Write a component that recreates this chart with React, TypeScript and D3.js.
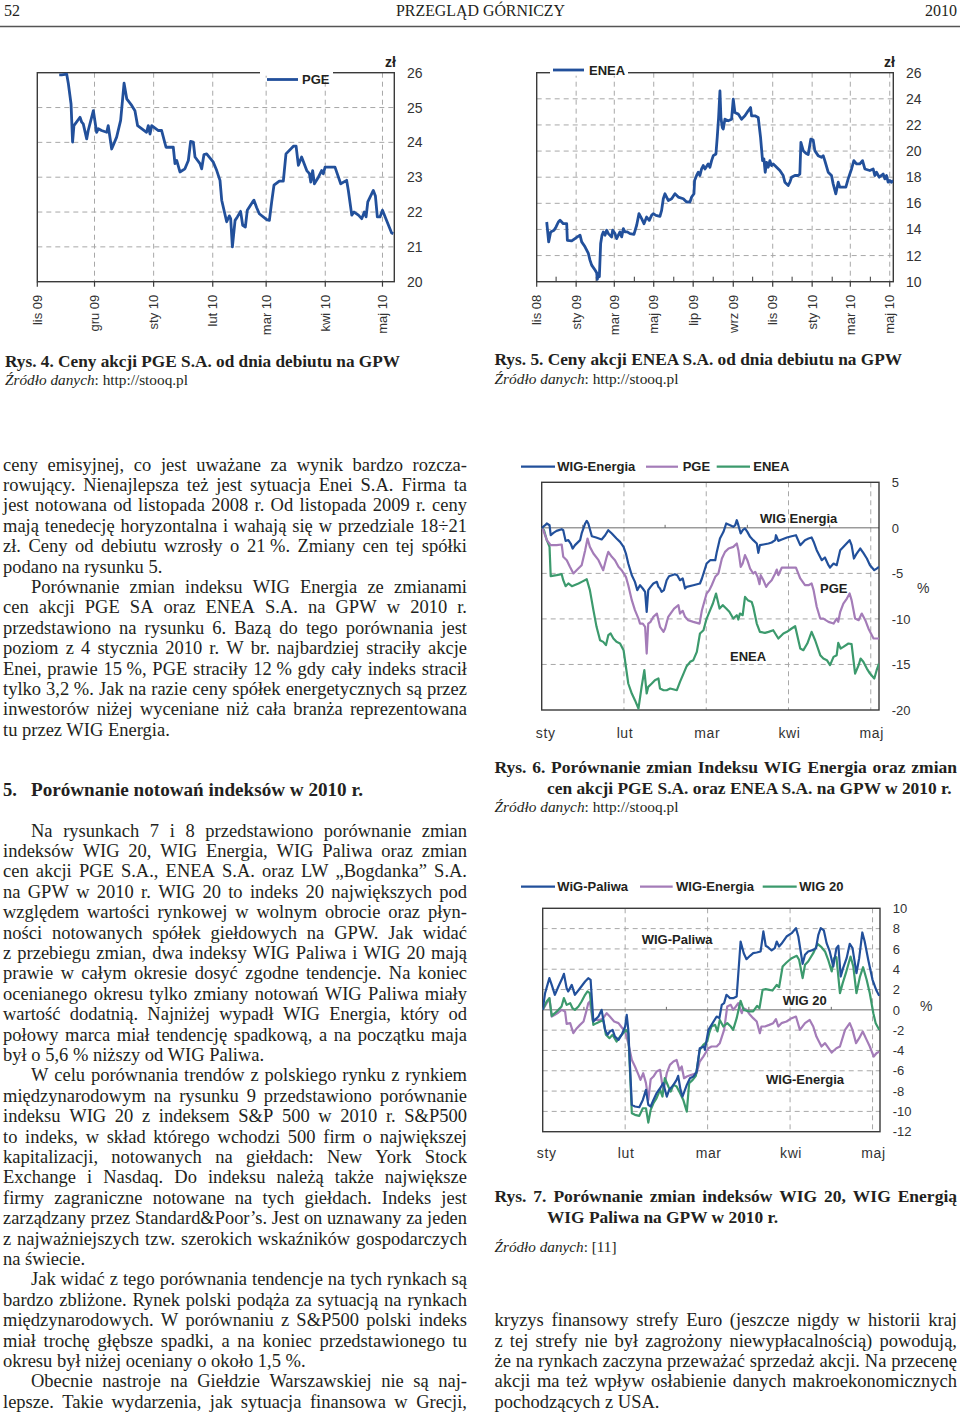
import React from "react";
import * as d3 from "d3";

const SERIF = "'Liberation Serif', 'Times New Roman', serif";
const SANS = "'Liberation Sans', Arial, sans-serif";
const INK = "#231f20";
const AX = "#3a3a3a";
const GRID = "#a8a8a8";
const BLUE = "#22509b";
const PURPLE = "#a47cb8";
const GREEN = "#3c9a6d";
const DAY = 86400000;

const MONTHS_PL = ["sty", "lut", "mar", "kwi", "maj", "cze", "lip", "sie", "wrz", "paź", "lis", "gru"];

// ---------- Rys. 4 : PGE price (days since 2009-11-01, zł) ----------
const pgeStart = Date.UTC(2009, 10, 1);
const pgeSpanDays = 187.2;
const pgeYTicks = [20, 21, 22, 23, 24, 25, 26];
const pgeSeries: [number, number][] = [
  [11.5, 25.94], [12.8, 25.94], [15.4, 25.96], [16.3, 25.68], [17.7, 25.1], [18.5, 24.01], [19.2, 24.48], [22.4, 24.72],
  [23.3, 24.58], [24.1, 24.53], [25.9, 24.1], [26.7, 24.34], [29.4, 24.91], [31.1, 24.29], [32.0, 24.39], [33.7, 24.34],
  [36.4, 24.29], [37.2, 24.48], [39.0, 23.81], [41.6, 24.15], [43.7, 24.63], [45.5, 25.7], [46.9, 25.25], [49.5, 25.06],
  [51.2, 24.91], [52.6, 24.48], [57.3, 24.29], [58.2, 24.48], [59.1, 24.24], [60.0, 24.48], [63.5, 24.34], [65.2, 24.34],
  [67.5, 23.86], [71.3, 23.86], [72.2, 23.39], [73.1, 23.48], [74.8, 23.15], [77.4, 23.24], [79.2, 23.48], [80.4, 24.03],
  [81.8, 24.01], [82.7, 23.58], [85.3, 23.39], [86.2, 23.24], [87.4, 23.65], [88.8, 23.67], [92.3, 23.43], [94.1, 23.19],
  [95.8, 22.91], [96.7, 22.34], [99.3, 21.72], [100.7, 21.89], [101.4, 21.81], [102.3, 21.0], [103.7, 21.76], [104.9, 21.86],
  [106.6, 22.02], [107.7, 21.62], [109.1, 21.57], [110.1, 22.05], [112.9, 22.29], [113.6, 22.34], [115.0, 22.13], [116.4, 21.95],
  [120.3, 21.78], [121.7, 21.76], [122.9, 22.29], [124.1, 22.77], [126.9, 22.89], [129.0, 22.89], [130.4, 23.67], [134.3, 23.89],
  [135.7, 23.89], [136.9, 23.34], [138.6, 23.58], [141.3, 23.19], [142.7, 23.1], [143.4, 22.86], [144.4, 23.19], [145.3, 22.81],
  [147.4, 23.0], [149.1, 23.19], [150.0, 23.1], [150.9, 23.29], [156.1, 23.29], [159.1, 22.81], [162.2, 22.91], [163.1, 22.62],
  [164.9, 21.91], [166.1, 22.0], [168.4, 21.91], [170.1, 21.81], [171.5, 22.0], [172.4, 21.86], [173.3, 22.29], [176.2, 22.62],
  [177.3, 22.46], [178.3, 21.86], [179.7, 21.86], [181.0, 22.05], [185.8, 21.4], [186.7, 21.38],
];

// ---------- Rys. 5 : ENEA price (days since 2008-11-01, zł) ----------
const eneaStart = Date.UTC(2008, 10, 1);
const eneaSpanDays = 551.5;
const eneaYTicks = [10, 12, 14, 16, 18, 20, 22, 24, 26];
const eneaSeries: [number, number][] = [
  [15.5, 14.57], [18.5, 13.05], [21.6, 13.81], [26.8, 13.94], [29.9, 14.19], [33.5, 14.57], [36.1, 14.7], [41.2, 14.44],
  [46.4, 14.44], [47.4, 13.17], [54.1, 13.12], [59.2, 13.3], [62.9, 13.43], [67.0, 13.56], [69.6, 13.05], [74.7, 12.67],
  [79.9, 12.16], [82.4, 11.65], [85.0, 11.27], [90.2, 10.89], [92.7, 10.69], [93.8, 10.18], [95.3, 10.63], [96.9, 10.38],
  [98.9, 12.92], [101.0, 13.56], [103.0, 13.81], [105.6, 13.56], [108.2, 13.94], [110.8, 13.68], [115.9, 13.43], [117.5, 13.94],
  [121.1, 13.68], [123.6, 13.3], [128.8, 13.81], [131.4, 13.43], [134.0, 14.06], [136.5, 13.81], [140.1, 13.81], [144.3, 13.68],
  [150.4, 13.63], [154.6, 14.32], [158.2, 15.21], [162.3, 14.83], [165.9, 14.44], [170.0, 14.95], [174.1, 14.7], [177.7, 15.08],
  [180.3, 15.21], [184.4, 15.08], [190.6, 15.0], [193.2, 15.46], [195.8, 16.35], [198.4, 16.73], [200.9, 16.48], [203.5, 16.22],
  [208.7, 16.35], [213.8, 16.73], [219.0, 16.48], [226.7, 16.35], [231.8, 16.1], [237.0, 16.1], [239.6, 16.48], [243.2, 16.73],
  [244.2, 17.75], [247.3, 18.13], [249.9, 18.38], [252.4, 18.13], [255.0, 18.63], [257.6, 18.89], [260.2, 18.63], [265.3, 19.02],
  [267.9, 18.76], [270.5, 19.27], [273.1, 19.65], [277.2, 19.78], [279.2, 21.05], [281.3, 22.57], [283.4, 24.6], [284.9, 22.57],
  [287.0, 21.81], [288.5, 21.68], [291.1, 22.44], [296.2, 22.32], [301.4, 22.44], [304.0, 23.97], [306.5, 22.95], [311.7, 22.83],
  [316.8, 22.44], [322.0, 22.7], [327.1, 23.08], [330.8, 23.33], [332.3, 22.7], [337.5, 22.7], [342.6, 22.57], [346.2, 21.05],
  [349.3, 19.27], [351.4, 19.4], [353.4, 18.38], [355.5, 19.14], [358.1, 18.76], [360.6, 19.27], [363.2, 18.89], [365.8, 19.02],
  [371.0, 18.76], [376.1, 18.51], [381.2, 18.13], [383.8, 17.62], [389.0, 17.37], [391.6, 17.62], [394.1, 18.0], [399.3, 18.13],
  [404.4, 18.13], [407.0, 18.25], [408.6, 20.67], [412.2, 20.03], [416.3, 19.83], [419.9, 19.73], [424.0, 20.92], [427.6, 20.84],
  [430.2, 20.03], [435.3, 19.65], [440.5, 19.52], [443.1, 19.65], [445.6, 19.27], [450.8, 18.38], [455.9, 18.13], [458.5, 17.49],
  [462.6, 16.73], [466.3, 17.62], [468.8, 17.24], [474.0, 17.24], [478.1, 17.24], [481.7, 17.87], [486.9, 18.63], [490.5, 19.27],
  [494.6, 19.02], [499.7, 19.02], [503.9, 19.27], [507.5, 18.63], [515.2, 18.51], [520.4, 18.63], [522.9, 18.13], [525.5, 18.38],
  [529.6, 18.0], [533.2, 18.13], [535.8, 18.25], [538.4, 17.87], [541.0, 18.13], [543.5, 17.62], [546.1, 17.75], [548.7, 17.62],
  [551.3, 17.75],
];

// ---------- Rys. 6 / Rys. 7 : change vs 4 Jan 2010 (trading-day index, %) ----------
const monthLabels2010 = ["sty", "lut", "mar", "kwi", "maj"];
const monthStartIdx = [0, 21, 42, 63, 84];
const midMonthIdx = [10.5, 31.5, 52.5, 73.5];
const fig6YTicks = [5, 0, -5, -10, -15, -20];
const fig7YTicks = [10, 8, 6, 4, 2, 0, -2, -4, -6, -8, -10, -12];

const f6WigEnergia: [number, number][] = [
  [0, 0], [0.9, 0.29], [1.3, 0.48], [2.0, 0.29], [2.3, -0.81], [3.0, -0.55], [3.8, -0.33], [5.1, -0.15], [5.5, -0.26], [6.1, -1.43],
  [6.8, -1.35], [7.4, -1.72], [7.9, -2.27], [8.5, -1.9], [9.8, -1.35], [10.2, -0.62], [11.1, 0.48], [11.5, 0.77], [11.9, 0.48],
  [12.8, -0.92], [13.9, -1.06], [15.3, -1.28], [16.2, -0.81], [17.0, -0.26], [17.9, -0.62], [19.1, -1.17], [20.0, -1.54],
  [20.9, -2.09], [21.5, -2.82], [22.1, -3.92], [23.0, -5.2], [23.8, -5.93], [24.4, -6.84], [25.1, -6.3], [25.8, -6.66],
  [26.4, -7.03], [26.8, -9.22], [27.2, -6.84], [27.8, -6.48], [28.5, -6.11], [29.4, -5.93], [29.8, -6.48], [30.2, -6.66],
  [30.6, -7.03], [31.2, -6.84], [31.9, -5.75], [32.5, -5.31], [34.0, -5.09], [34.6, -5.2], [35.3, -5.75], [36.0, -5.56],
  [36.6, -6.66], [37.0, -6.48], [38.7, -6.3], [40.4, -6.11], [40.9, -5.56], [42.1, -3.92], [43.0, -3.55], [44.3, -3.55],
  [44.7, -2.64], [45.5, -1.17], [46.4, -0.44], [47.1, 0.48], [48.1, 0.29], [48.9, 0.11], [49.4, 0.29], [49.8, 0.84], [50.2, 0.29],
  [50.8, -0.62], [51.3, -0.26], [51.9, -0.07], [52.5, -0.44], [53.2, -0.99], [54.0, -1.35], [54.9, -1.72], [55.3, -2.75],
  [55.7, -1.9], [56.6, -1.83], [57.9, -1.72], [58.7, -1.61], [59.6, -1.35], [59.8, -0.81], [60.4, -1.43], [61.3, -1.28],
  [62.6, -1.06], [63.8, -0.92], [64.9, -0.81], [66.0, -1.9], [67.2, -1.35], [68.1, -1.17], [68.9, -1.06], [69.5, -1.61],
  [70.2, -2.45], [71.5, -3.55], [72.3, -3.26], [73.2, -4.1], [73.6, -4.36], [74.5, -3.92], [75.3, -4.1], [76.2, -2.45],
  [77.4, -1.9], [78.6, -1.35], [79.1, -1.9], [79.7, -3.37], [80.4, -2.82], [81.3, -2.27], [82.1, -2.75], [83.0, -3.37],
  [83.8, -4.1], [84.9, -4.65], [85.5, -4.47], [86.1, -4.28],
];
const f6Pge: [number, number][] = [
  [0, 0], [0.4, -0.26], [1.3, -1.35], [2.3, -1.9], [3.8, -1.9], [5.1, -1.83], [5.5, -3.18], [6.4, -3.55], [7.2, -4.28],
  [8.1, -5.01], [8.9, -4.65], [9.8, -4.28], [10.2, -4.1], [11.1, -2.45], [11.7, -1.17], [12.3, -2.09], [13.2, -2.82],
  [14.5, -3.55], [15.7, -4.65], [16.6, -3.18], [17.0, -2.64], [17.9, -3.18], [18.7, -3.55], [19.6, -4.28], [20.4, -4.65],
  [21.5, -5.38], [22.1, -6.3], [23.0, -7.94], [23.8, -9.04], [24.7, -9.96], [25.1, -10.51], [25.8, -10.51], [26.4, -10.87],
  [26.8, -13.8], [27.2, -10.51], [27.8, -10.32], [28.5, -9.77], [29.4, -9.41], [30.2, -10.87], [31.1, -11.42], [31.5, -11.05],
  [32.3, -9.77], [33.2, -9.22], [33.8, -8.86], [34.9, -8.49], [35.3, -9.41], [36.0, -9.11], [36.6, -9.77], [37.4, -10.14],
  [38.7, -10.32], [40.3, -10.51], [40.9, -9.04], [42.1, -7.21], [42.8, -6.84], [43.4, -6.3], [44.3, -5.38], [45.1, -5.01],
  [46.0, -3.37], [46.8, -2.64], [47.7, -2.27], [48.9, -2.09], [49.8, -1.72], [50.2, -2.45], [50.8, -4.28], [51.3, -3.92],
  [51.9, -3.0], [52.5, -3.55], [53.2, -4.47], [54.0, -5.01], [54.5, -4.83], [55.1, -5.38], [55.6, -6.19], [55.9, -5.2],
  [56.6, -5.75], [57.3, -6.48], [57.9, -6.11], [58.7, -5.75], [59.6, -5.01], [60.0, -4.58], [60.4, -5.2], [61.3, -4.36],
  [64.9, -4.36], [66.0, -5.56], [67.2, -6.3], [68.1, -6.3], [68.9, -6.11], [69.4, -6.84], [70.2, -8.67], [71.1, -9.96],
  [71.9, -9.96], [73.2, -10.32], [74.5, -10.51], [75.3, -9.96], [75.7, -10.32], [76.2, -9.22], [77.0, -8.31], [77.9, -7.76],
  [78.6, -7.21], [79.1, -7.94], [80.0, -9.96], [80.9, -10.14], [81.7, -9.41], [82.6, -10.14], [83.4, -11.05], [84.7, -12.15],
  [86.1, -12.15],
];
const f6Enea: [number, number][] = [
  [0, 0], [0.6, -0.26], [1.3, -1.35], [2.0, -2.09], [2.3, -5.31], [3.8, -5.2], [5.1, -5.09], [5.5, -5.75], [6.1, -6.41],
  [6.8, -6.11], [7.7, -6.41], [9.4, -6.11], [10.2, -5.93], [11.5, -5.64], [12.3, -6.84], [13.2, -9.04], [14.0, -10.87],
  [14.9, -12.34], [15.7, -12.52], [16.4, -12.88], [17.0, -11.79], [17.6, -11.6], [18.3, -12.15], [19.1, -12.52], [20.0, -12.7],
  [20.9, -13.43], [21.5, -15.26], [22.1, -17.09], [23.0, -18.19], [23.8, -18.92], [24.7, -19.84], [25.5, -17.46], [26.2, -15.63],
  [26.8, -18.19], [27.2, -17.46], [28.1, -17.09], [28.9, -16.73], [29.8, -16.54], [30.2, -17.64], [31.1, -17.83], [31.9, -17.83],
  [32.8, -17.64], [34.5, -17.83], [35.3, -16.91], [36.2, -16.0], [37.0, -15.19], [37.9, -14.71], [38.7, -14.53], [39.6, -13.62],
  [40.4, -11.6], [41.3, -11.24], [42.1, -9.96], [43.0, -9.04], [43.7, -8.31], [44.5, -7.21], [45.4, -8.86], [46.2, -8.49],
  [47.1, -8.86], [47.9, -9.22], [48.9, -9.96], [49.8, -9.59], [50.2, -10.07], [50.6, -9.41], [51.3, -9.59], [51.9, -7.58],
  [52.6, -7.94], [53.6, -8.13], [54.0, -8.67], [54.9, -10.51], [55.7, -11.42], [57.0, -11.53], [57.9, -11.42], [59.1, -11.24],
  [60.4, -12.15], [61.7, -11.6], [62.6, -11.42], [63.8, -11.05], [64.7, -10.8], [66.0, -13.25], [66.8, -13.43], [67.8, -12.7],
  [68.9, -11.42], [69.8, -12.34], [71.1, -13.98], [71.9, -14.35], [72.8, -14.53], [73.6, -15.08], [74.5, -14.17], [75.3, -13.98],
  [75.7, -12.63], [76.3, -13.25], [77.0, -13.07], [78.3, -12.7], [79.1, -12.77], [80.0, -16.0], [80.9, -15.08], [81.4, -14.35],
  [82.1, -14.71], [83.0, -15.45], [83.8, -16.0], [84.9, -16.54], [85.5, -15.63], [86.1, -14.9],
];

const f7WigPaliwa: [number, number][] = [
  [0, 0], [0.6, 1.64], [1.7, 3.12], [2.3, 2.46], [3.1, 1.48], [4.0, 2.3], [4.8, 2.96], [5.4, 3.55], [6.1, 2.13], [6.5, 1.81],
  [7.4, 2.46], [8.2, 1.48], [9.5, 2.13], [10.8, 2.79], [11.6, 3.12], [12.2, 2.96], [12.9, -1.15], [13.3, -0.99], [14.2, -0.66],
  [15.0, 0], [15.9, -1.97], [16.5, -2.46], [17.1, -2.13], [17.8, -1.97], [18.4, -2.63], [19.3, -2.96], [20.1, -2.46],
  [21.0, -1.64], [21.4, -0.49], [21.8, -1.97], [22.7, -9.36], [23.5, -9.52], [24.6, -9.59], [25.5, -8.87], [26.3, -7.88],
  [26.9, -9.36], [27.5, -9.52], [28.2, -8.87], [29.0, -8.21], [29.9, -7.72], [30.7, -7.22], [31.6, -8.54], [32.2, -7.88],
  [33.3, -7.39], [34.1, -6.9], [34.5, -6.5], [35.1, -7.88], [35.6, -8.54], [36.7, -7.39], [37.5, -6.73], [38.4, -6.57],
  [39.2, -6.08], [40.0, -3.78], [41.1, -3.61], [41.3, -3.94], [42.2, -1.97], [43.0, -1.48], [44.3, -0.66], [45.0, -0.82],
  [45.6, 0.49], [46.2, 0.66], [46.8, 1.48], [47.7, 1.15], [48.5, 1.15], [49.4, 1.31], [50.4, 6.73], [51.2, 5.58], [51.9, 4.99],
  [52.8, 5.32], [53.6, 5.58], [54.5, 5.65], [55.5, 5.75], [56.2, 7.72], [56.8, 6.31], [57.4, 6.17], [58.3, 5.85], [59.1, 6.08],
  [59.6, 6.73], [60.2, 6.24], [60.8, 6.5], [62.1, 7.22], [63.4, 7.55], [64.5, 8.05], [65.1, 7.22], [66.2, 4.53], [66.8, 5.42],
  [67.6, 5.75], [68.9, 5.91], [69.6, 6.08], [70.2, 7.39], [70.8, 8.05], [71.6, 7.82], [72.3, 6.57], [73.1, 5.75], [74.0, 4.27],
  [74.8, 6.08], [75.3, 6.31], [75.9, 3.28], [76.5, 4.11], [77.4, 5.09], [78.2, 6.5], [78.9, 6.08], [79.9, 3.61], [80.6, 5.09],
  [81.4, 7.62], [82.0, 6.73], [82.9, 4.93], [84.0, 2.96], [85.0, 1.9], [85.7, 1.38],
];
const f7WigEnergia: [number, number][] = [
  [0, 0], [1.0, 0.66], [1.7, 1.15], [2.3, -0.66], [3.1, -0.49], [4.0, -0.26], [4.8, 0], [5.7, -0.16], [6.1, -1.38], [7.0, -1.31],
  [7.8, -2.3], [8.7, -1.81], [9.5, -1.48], [10.4, -1.15], [11.2, 0], [11.6, 0.66], [12.0, 0.82], [12.7, -0.99], [14.6, -0.99],
  [15.4, -0.82], [16.3, -0.33], [17.1, -0.66], [18.2, -1.15], [19.3, -1.31], [20.1, -1.71], [21.0, -2.13], [21.8, -3.28],
  [22.7, -4.93], [23.5, -5.58], [24.4, -6.4], [24.9, -6.9], [25.6, -6.24], [26.3, -7.22], [26.9, -8.87], [27.5, -6.83],
  [28.2, -6.57], [29.0, -6.08], [29.9, -5.91], [30.7, -8.05], [31.6, -6.24], [32.4, -5.42], [33.3, -5.09], [34.1, -4.93],
  [34.8, -5.91], [35.4, -5.58], [36.0, -6.73], [36.7, -6.57], [37.9, -6.4], [39.2, -6.24], [40.0, -5.09], [40.9, -4.6],
  [42.2, -3.78], [43.0, -3.61], [44.3, -3.61], [45.1, -3.28], [46.2, -1.97], [47.0, 0.33], [47.9, 0.49], [48.5, 0], [49.2, 0.33],
  [49.8, 0.66], [50.7, -0.33], [51.1, 0.16], [51.9, 0], [52.8, -0.49], [53.6, -0.82], [54.5, -1.15], [55.3, -2.3], [55.7, -1.64],
  [56.6, -1.64], [57.7, -1.48], [58.7, -1.31], [59.4, -0.92], [60.0, -1.64], [60.8, -1.31], [62.1, -1.15], [63.4, -0.82],
  [64.5, -0.66], [65.5, -1.97], [66.8, -1.31], [68.0, -0.99], [68.9, -1.64], [69.7, -2.63], [71.0, -3.61], [71.9, -3.28],
  [73.1, -3.94], [73.6, -4.2], [74.8, -3.78], [75.7, -3.61], [77.0, -1.97], [78.2, -1.31], [78.9, -1.97], [79.8, -3.28],
  [80.6, -2.79], [81.5, -2.13], [82.5, -2.96], [83.3, -3.61], [84.3, -4.6], [85.0, -4.27], [85.7, -4.11],
];
const f7Wig20: [number, number][] = [
  [0, 0], [1.0, 0.82], [1.7, 1.15], [2.3, -0.59], [3.1, -0.33], [4.0, 0], [4.8, 0.33], [5.4, 1.15], [6.1, 0.49], [7.0, 0.66],
  [7.6, 0.16], [8.2, 0], [9.1, 0.33], [9.9, 0.82], [10.8, 1.48], [11.4, 1.81], [12.0, 1.64], [12.9, -1.48], [13.7, -1.31],
  [14.6, -1.15], [15.4, -0.99], [16.1, -2.46], [17.0, -2.79], [17.8, -2.46], [18.8, -3.12], [19.7, -2.63], [20.5, -2.3],
  [21.2, -1.97], [21.8, -2.3], [22.7, -10.18], [23.5, -10.34], [24.6, -10.44], [25.5, -9.69], [26.3, -9.69], [26.9, -11.1],
  [27.5, -9.85], [28.2, -9.2], [29.0, -8.7], [29.9, -7.88], [30.5, -8.54], [31.1, -6.73], [32.0, -7.55], [32.6, -8.05],
  [33.3, -7.39], [34.1, -7.55], [35.0, -8.21], [35.8, -8.87], [36.7, -10.02], [37.3, -7.22], [38.2, -6.9], [39.0, -6.5],
  [40.0, -3.94], [40.9, -3.45], [41.9, -3.12], [42.4, -2.3], [43.0, -1.64], [43.9, -1.48], [44.5, -2.13], [45.1, -0.99],
  [46.0, -1.64], [47.0, -1.31], [47.9, -1.64], [48.5, -1.97], [49.4, -0.82], [50.4, 0.89], [51.2, 0], [52.6, -0.16],
  [53.6, -0.16], [54.6, 0.39], [55.2, 0.16], [56.0, 1.97], [56.8, 2.04], [57.7, 1.97], [58.5, 1.9], [59.6, 2.46], [60.2, 2.23],
  [61.1, 4.27], [62.1, 4.66], [63.4, 5.09], [64.7, 5.32], [65.3, 4.93], [66.2, 3.12], [66.8, 4.43], [67.6, 4.76], [68.9, 5.58],
  [70.0, 6.5], [71.0, 6.17], [71.9, 5.75], [72.7, 4.93], [73.6, 3.78], [74.2, 5.09], [74.8, 5.19], [75.7, 1.64], [76.4, 2.63],
  [77.2, 3.61], [78.4, 5.25], [79.1, 4.27], [79.9, 1.64], [80.8, 3.28], [81.6, 4.2], [82.5, 2.96], [83.3, 1.64], [84.2, -0.33],
  [84.8, -1.31], [85.7, -1.97],
];

// ---------- text ----------
const NB = "\u00A0";
const colA = [
  "ceny emisyjnej, co jest uważane za wynik bardzo rozcza-",
  "rowujący. Nienajlepsza też jest sytuacja Enei S.A. Firma ta",
  "jest notowana od listopada 2008 r. Od listopada 2009 r. ceny",
  "mają tenedecję horyzontalna i wahają się w przedziale 18÷21",
  `zł. Ceny od debiutu wzrosły o 21${NB}%. Zmiany cen tej spółki`,
  "#podano na rysunku 5.",
  ">Porównanie zmian indeksu WIG Energia ze zmianami",
  "cen akcji PGE SA oraz ENEA S.A. na GPW w 2010 r.",
  "przedstawiono na rysunku 6. Bazą do tego porównania jest",
  "poziom z 4 stycznia 2010 r. W br. najbardziej straciły akcje",
  `Enei, prawie 15${NB}%, PGE straciły 12${NB}% gdy cały indeks stracił`,
  `tylko 3,2${NB}%. Jak na razie ceny spółek energetycznych są przez`,
  "inwestorów niżej wyceniane niż cała branża reprezentowana",
  "#tu przez WIG Energia.",
];
const colB = [
  ">Na rysunkach 7 i 8 przedstawiono porównanie zmian",
  "indeksów WIG 20, WIG Energia, WIG Paliwa oraz zmian",
  "cen akcji PGE S.A., ENEA S.A. oraz LW „Bogdanka” S.A.",
  "na GPW w 2010 r. WIG 20 to indeks 20 największych pod",
  "względem wartości rynkowej w wolnym obrocie oraz płyn-",
  "ności notowanych spółek giełdowych na GPW. Jak widać",
  "z przebiegu zmian, dwa indeksy WIG Paliwa i WIG 20 mają",
  "prawie w całym okresie dosyć zgodne tendencje. Na koniec",
  "ocenianego okresu tylko zmiany notowań WIG Paliwa miały",
  "wartość dodatnią. Najniżej wypadł WIG Energia, który od",
  "połowy marca miał tendencję spadkową, a na początku maja",
  `#był o 5,6${NB}% niższy od WIG Paliwa.`,
  ">W celu porównania trendów z polskiego rynku z rynkiem",
  "międzynarodowym na rysunku 9 przedstawiono porównanie",
  "indeksu WIG 20 z indeksem S&P 500 w 2010 r. S&P500",
  "to indeks, w skład którego wchodzi 500 firm o największej",
  "kapitalizacji, notowanych na giełdach: New York Stock",
  "Exchange i Nasdaq. Do indeksu należą także największe",
  "firmy zagraniczne notowane na tych giełdach. Indeks jest",
  "zarządzany przez Standard&Poor’s. Jest on uznawany za jeden",
  "z najważniejszych tzw. szerokich wskaźników gospodarczych",
  "#na świecie.",
  ">Jak widać z tego porównania tendencje na tych rynkach są",
  "bardzo zbliżone. Rynek polski podąża za sytuacją na rynkach",
  "międzynarodowych. W porównaniu z S&P500 polski indeks",
  "miał trochę głębsze spadki, a na koniec przedstawionego tu",
  `#okresu był niżej oceniany o około 1,5${NB}%.`,
  ">Obecnie nastroje na Giełdzie Warszawskiej nie są naj-",
  "lepsze. Takie wydarzenia, jak sytuacja finansowa w Grecji,",
];
const colC = [
  "kryzys finansowy strefy Euro (jeszcze nigdy w historii kraj",
  "z tej strefy nie był zagrożony niewypłacalnością) powodują,",
  "że na rynkach zaczyna przeważać sprzedaż akcji. Na przecenę",
  "akcji ma też wpływ osłabienie danych makroekonomicznych",
  "#pochodzących z USA.",
];

// ---------- helpers ----------
let _ctx: CanvasRenderingContext2D | null = null;
function measure(t: string, font: string): number {
  if (!_ctx) _ctx = document.createElement("canvas").getContext("2d");
  _ctx!.font = font;
  return _ctx!.measureText(t).width;
}

function JLine(props: {
  text: string; x0: number; x1: number; y: number; size: number; weight?: string; justify: boolean; fit?: boolean;
}) {
  const { text, x0, x1, y, size, weight = "normal", justify, fit } = props;
  const font = `${weight} ${size}px "Liberation Serif"`;
  const words = text.split(/ +/);
  const ww = words.map((w) => measure(w, font));
  const sp = measure(" ", font);
  const sum = ww.reduce((a, b) => a + b, 0);
  const natural = sum + sp * (words.length - 1);
  const target = x1 - x0;
  const common = { y, fontSize: size, fontWeight: weight, fontFamily: SERIF, fill: INK } as any;
  if (fit || natural > target) {
    return (
      <text x={x0} textLength={target} lengthAdjust="spacingAndGlyphs" {...common}>
        {text}
      </text>
    );
  }
  if (!justify || words.length < 2) {
    return (
      <text x={x0} {...common}>
        {text}
      </text>
    );
  }
  const gap = (target - sum) / (words.length - 1);
  let cx = x0;
  const spans = words.map((w, i) => {
    const el = (
      <tspan key={i} x={cx}>
        {w}
      </tspan>
    );
    cx += ww[i] + gap;
    return el;
  });
  return <text {...common}>{spans}</text>;
}

function Column({ lines, x0, x1, y0, step, size }: { lines: string[]; x0: number; x1: number; y0: number; step: number; size: number }) {
  return (
    <g>
      {lines.map((raw, i) => {
        let t = raw;
        let indent = 0;
        let justify = true;
        if (t.startsWith(">")) {
          t = t.slice(1);
          indent = 28;
        }
        if (t.startsWith("#")) {
          t = t.slice(1);
          justify = false;
        }
        return <JLine key={i} text={t} x0={x0 + indent} x1={x1} y={y0 + i * step} size={size} justify={justify} />;
      })}
    </g>
  );
}

function Source({ x, y, w, rest }: { x: number; y: number; w: number; rest: string }) {
  return (
    <text x={x} y={y} fontFamily={SERIF} fontSize={15.5} fill={INK} textLength={w} lengthAdjust="spacingAndGlyphs">
      <tspan fontStyle="italic">Źródło danych</tspan>
      {rest}
    </text>
  );
}

type PriceCfg = {
  id: string; left: number; right: number; top: number; bottom: number;
  start: number; spanDays: number; yTicks: number[]; data: [number, number][];
  labelEvery: number; yLabelX: number; gap: [number, number]; legend: { x0: number; x1: number; y: number; tx: number; label: string };
  zl: { x: number; y: number };
};

function PriceChart(c: PriceCfg) {
  const end = c.start + c.spanDays * DAY;
  const x = d3.scaleUtc().domain([new Date(c.start), new Date(end)]).range([c.left, c.right]);
  const yMin = d3.min(c.yTicks)!;
  const yMax = d3.max(c.yTicks)!;
  const y = d3.scaleLinear().domain([yMin, yMax]).range([c.bottom, c.top]);
  const months = d3.utcMonth.range(new Date(c.start), new Date(end));
  const major = months.filter((_, i) => i % c.labelEvery === 0);
  const minor = months.filter((_, i) => i % c.labelEvery !== 0);
  const line = d3
    .line<[number, number]>()
    .x((d) => x(new Date(c.start + d[0] * DAY)))
    .y((d) => y(d[1]));
  const label = (d: Date) => `${MONTHS_PL[d.getUTCMonth()]} ${String(d.getUTCFullYear()).slice(2)}`;
  const gridVals = c.yTicks.filter((v) => v !== yMin && v !== yMax);
  return (
    <g>
      <defs>
        <clipPath id={c.id}>
          <rect x={c.left} y={c.top - 2} width={c.right - c.left} height={c.bottom - c.top + 2} />
        </clipPath>
      </defs>
      {gridVals.map((v) => (
        <line key={"h" + v} x1={c.left} x2={c.right} y1={y(v)} y2={y(v)} stroke={GRID} strokeDasharray="5,4" strokeWidth={1} />
      ))}
      {major
        .filter((d) => x(d) > c.left + 2)
        .map((d) => (
          <line key={"v" + +d} x1={x(d)} x2={x(d)} y1={c.top} y2={c.bottom} stroke={GRID} strokeDasharray="5,4" strokeWidth={1} />
        ))}
      <rect x={c.left} y={c.top} width={c.right - c.left} height={c.bottom - c.top} fill="none" stroke={AX} strokeWidth={1.4} />
      {major.map((d) => (
        <line key={"t" + +d} x1={x(d)} x2={x(d)} y1={c.bottom} y2={c.bottom + 5} stroke={AX} strokeWidth={1.2} />
      ))}
      {minor.map((d) => (
        <line key={"m" + +d} x1={x(d)} x2={x(d)} y1={c.bottom} y2={c.bottom - 5} stroke={AX} strokeWidth={1} />
      ))}
      <path d={line(c.data)!} fill="none" stroke={BLUE} strokeWidth={2.8} strokeLinejoin="round" clipPath={`url(#${c.id})`} />
      <rect x={c.gap[0]} y={c.top - 3} width={c.gap[1] - c.gap[0]} height={6} fill="#fff" />
      <line x1={c.legend.x0} x2={c.legend.x1} y1={c.legend.y} y2={c.legend.y} stroke={BLUE} strokeWidth={2.8} />
      <text x={c.legend.tx} y={c.legend.y} dy="0.36em" fontFamily={SANS} fontWeight="bold" fontSize={13} fill={INK}>
        {c.legend.label}
      </text>
      <text x={c.zl.x} y={c.zl.y} fontFamily={SANS} fontWeight="bold" fontSize={14} fill={INK}>
        zł
      </text>
      {c.yTicks.map((v) => (
        <text key={"yl" + v} x={c.yLabelX} y={y(v)} dy="0.36em" fontFamily={SANS} fontSize={14} fill="#333">
          {v}
        </text>
      ))}
      {major.map((d) => (
        <text
          key={"xl" + +d}
          transform={`translate(${x(d)},${c.bottom + 13}) rotate(-90)`}
          textAnchor="end"
          dy="0.35em"
          fontFamily={SANS}
          fontSize={13}
          fill="#333"
        >
          {label(d)}
        </text>
      ))}
    </g>
  );
}

type IndexCfg = {
  id: string; left: number; right: number; top: number; bottom: number; xMax: number; yTicks: number[];
  series: { data: [number, number][]; color: string }[];
  legend: { x0: number; x1: number; tx: number; label: string; color: string }[]; legendY: number;
  notes: { x: number; y: number; t: string }[]; yLabelX: number; xLabelY: number; pct: { x: number; y: number };
};

function IndexChart(c: IndexCfg) {
  const x = d3.scaleLinear().domain([0, c.xMax]).range([c.left, c.right]);
  const yMin = d3.min(c.yTicks)!;
  const yMax = d3.max(c.yTicks)!;
  const y = d3.scaleLinear().domain([yMin, yMax]).range([c.bottom, c.top]);
  const line = d3
    .line<[number, number]>()
    .x((d) => x(d[0]))
    .y((d) => y(d[1]));
  const gridVals = c.yTicks.filter((v) => v !== yMin && v !== yMax && v !== 0);
  return (
    <g>
      <defs>
        <clipPath id={c.id}>
          <rect x={c.left} y={c.top} width={c.right - c.left} height={c.bottom - c.top} />
        </clipPath>
      </defs>
      {gridVals.map((v) => (
        <line key={"h" + v} x1={c.left} x2={c.right} y1={y(v)} y2={y(v)} stroke={GRID} strokeDasharray="5,4" strokeWidth={1} />
      ))}
      {monthStartIdx.slice(1).map((m) => (
        <line key={"v" + m} x1={x(m)} x2={x(m)} y1={c.top} y2={c.bottom} stroke={GRID} strokeDasharray="5,4" strokeWidth={1} />
      ))}
      <line x1={c.left} x2={c.right} y1={y(0)} y2={y(0)} stroke="#6a6a6a" strokeWidth={1} />
      {midMonthIdx.map((m) => (
        <line key={"mt" + m} x1={x(m)} x2={x(m)} y1={y(0)} y2={y(0) - 3} stroke="#6a6a6a" strokeWidth={1} />
      ))}
      <rect x={c.left} y={c.top} width={c.right - c.left} height={c.bottom - c.top} fill="none" stroke={AX} strokeWidth={1.4} />
      <g clipPath={`url(#${c.id})`}>
        {c.series.map((s, i) => (
          <path key={i} d={line(s.data)!} fill="none" stroke={s.color} strokeWidth={2.2} strokeLinejoin="round" />
        ))}
      </g>
      {c.legend.map((l, i) => (
        <g key={"lg" + i}>
          <line x1={l.x0} x2={l.x1} y1={c.legendY} y2={c.legendY} stroke={l.color} strokeWidth={2.2} />
          <text x={l.tx} y={c.legendY} dy="0.36em" fontFamily={SANS} fontWeight="bold" fontSize={13} fill={INK}>
            {l.label}
          </text>
        </g>
      ))}
      {c.notes.map((n, i) => (
        <text key={"n" + i} x={n.x} y={n.y} fontFamily={SANS} fontWeight="bold" fontSize={13} fill={INK}>
          {n.t}
        </text>
      ))}
      {c.yTicks.map((v) => (
        <text key={"yl" + v} x={c.yLabelX} y={y(v)} dy="0.36em" fontFamily={SANS} fontSize={13} fill="#333">
          {v}
        </text>
      ))}
      {monthLabels2010.map((m, i) => (
        <text
          key={"xl" + m}
          x={x(monthStartIdx[i]) + (i === 0 ? 4 : 1)}
          y={c.xLabelY}
          textAnchor="middle"
          fontFamily={SANS}
          fontSize={14}
          letterSpacing={0.6}
          fill="#333"
        >
          {m}
        </text>
      ))}
      <text x={c.pct.x} y={c.pct.y} dy="0.36em" fontFamily={SANS} fontSize={14} fill="#333">
        %
      </text>
    </g>
  );
}

export default function App() {
  const bodySize = 18.5;
  const step = 20.4;
  return (
    <svg
      width={960}
      height={1414}
      viewBox="0 0 960 1414"
      style={{ position: "absolute", left: 0, top: 0, display: "block", background: "#fff" }}
    >
      <rect x={0} y={0} width={960} height={1414} fill="#fff" />
      {/* header */}
      <text x={4} y={16} fontFamily={SERIF} fontSize={16} fill={INK}>52</text>
      <text x={480.5} y={16} textAnchor="middle" fontFamily={SERIF} fontSize={16} fill={INK} textLength={169} lengthAdjust="spacingAndGlyphs">
        PRZEGLĄD GÓRNICZY
      </text>
      <text x={957} y={16} textAnchor="end" fontFamily={SERIF} fontSize={16} fill={INK}>2010</text>
      <line x1={0} x2={960} y1={26.5} y2={26.5} stroke="#555" strokeWidth={1.5} />

      {/* Rys. 4 */}
      <PriceChart
        id="c4"
        left={37.3}
        right={394.3}
        top={72.7}
        bottom={281.7}
        start={pgeStart}
        spanDays={pgeSpanDays}
        yTicks={pgeYTicks}
        data={pgeSeries}
        labelEvery={1}
        yLabelX={407}
        gap={[260, 333]}
        legend={{ x0: 267, x1: 298, y: 79.5, tx: 302, label: "PGE" }}
        zl={{ x: 385, y: 67 }}
      />
      {/* Rys. 5 */}
      <PriceChart
        id="c5"
        left={536.7}
        right={893.3}
        top={72.7}
        bottom={281.7}
        start={eneaStart}
        spanDays={eneaSpanDays}
        yTicks={eneaYTicks}
        data={eneaSeries}
        labelEvery={2}
        yLabelX={906}
        gap={[550, 628]}
        legend={{ x0: 553, x1: 584, y: 70, tx: 589, label: "ENEA" }}
        zl={{ x: 884, y: 67 }}
      />

      <JLine text="Rys. 4. Ceny akcji PGE S.A. od dnia debiutu na GPW" x0={5} x1={400} y={367} size={17.5} weight="bold" justify fit />
      <Source x={5} y={385} w={183} rest=": http://stooq.pl" />
      <JLine text="Rys. 5. Ceny akcji ENEA S.A. od dnia debiutu na GPW" x0={494.5} x1={902} y={365} size={17.5} weight="bold" justify fit />
      <Source x={494.5} y={384} w={184} rest=": http://stooq.pl" />

      {/* Rys. 6 */}
      <IndexChart
        id="c6"
        left={541.7}
        right={879}
        top={482.3}
        bottom={710}
        xMax={86.1}
        yTicks={fig6YTicks}
        series={[
          { data: f6Enea, color: GREEN },
          { data: f6Pge, color: PURPLE },
          { data: f6WigEnergia, color: BLUE },
        ]}
        legendY={466.7}
        legend={[
          { x0: 521, x1: 555, tx: 557.3, label: "WIG-Energia", color: BLUE },
          { x0: 646, x1: 678, tx: 682.7, label: "PGE", color: PURPLE },
          { x0: 716.7, x1: 750, tx: 753.3, label: "ENEA", color: GREEN },
        ]}
        notes={[
          { x: 760, y: 523, t: "WIG Energia" },
          { x: 820, y: 593, t: "PGE" },
          { x: 730, y: 660.5, t: "ENEA" },
        ]}
        yLabelX={891.7}
        xLabelY={738}
        pct={{ x: 917, y: 588 }}
      />
      <JLine text="Rys. 6. Porównanie zmian Indeksu WIG Energia oraz zmian" x0={494.5} x1={957} y={773} size={17.5} weight="bold" justify />
      <JLine text="cen akcji PGE S.A. oraz ENEA S.A. na GPW w 2010 r." x0={547} x1={951.5} y={793.5} size={17.5} weight="bold" justify={false} fit />
      <Source x={494.5} y={812} w={184} rest=": http://stooq.pl" />

      {/* Rys. 7 */}
      <IndexChart
        id="c7"
        left={542.7}
        right={880}
        top={908.3}
        bottom={1131.7}
        xMax={85.9}
        yTicks={fig7YTicks}
        series={[
          { data: f7WigEnergia, color: PURPLE },
          { data: f7Wig20, color: GREEN },
          { data: f7WigPaliwa, color: BLUE },
        ]}
        legendY={886.7}
        legend={[
          { x0: 521, x1: 555, tx: 557.3, label: "WiG-Paliwa", color: BLUE },
          { x0: 640, x1: 672.7, tx: 676, label: "WIG-Energia", color: PURPLE },
          { x0: 762.7, x1: 796.7, tx: 799.3, label: "WIG 20", color: GREEN },
        ]}
        notes={[
          { x: 641.7, y: 944, t: "WIG-Paliwa" },
          { x: 782.7, y: 1005, t: "WIG 20" },
          { x: 766, y: 1084, t: "WIG-Energia" },
        ]}
        yLabelX={892.7}
        xLabelY={1157.5}
        pct={{ x: 920, y: 1006 }}
      />
      <JLine text="Rys. 7. Porównanie zmian indeksów WIG 20, WIG Energią" x0={494.5} x1={957} y={1202} size={17.5} weight="bold" justify />
      <JLine text="WIG Paliwa na GPW w 2010 r." x0={547} x1={778} y={1222.5} size={17.5} weight="bold" justify={false} fit />
      <Source x={494.5} y={1251.5} w={122} rest=": [11]" />

      {/* body text */}
      <Column lines={colA} x0={3} x1={467} y0={470.5} step={step} size={bodySize} />
      <text x={3} y={796} fontFamily={SERIF} fontWeight="bold" fontSize={bodySize} fill={INK}>5.</text>
      <JLine text="Porównanie notowań indeksów w 2010 r." x0={31} x1={363} y={796} size={bodySize} weight="bold" justify={false} fit />
      <Column lines={colB} x0={3} x1={467} y0={836.5} step={step} size={bodySize} />
      <Column lines={colC} x0={494.5} x1={957} y0={836.5 + 24 * step} step={step} size={bodySize} />
    </svg>
  );
}
